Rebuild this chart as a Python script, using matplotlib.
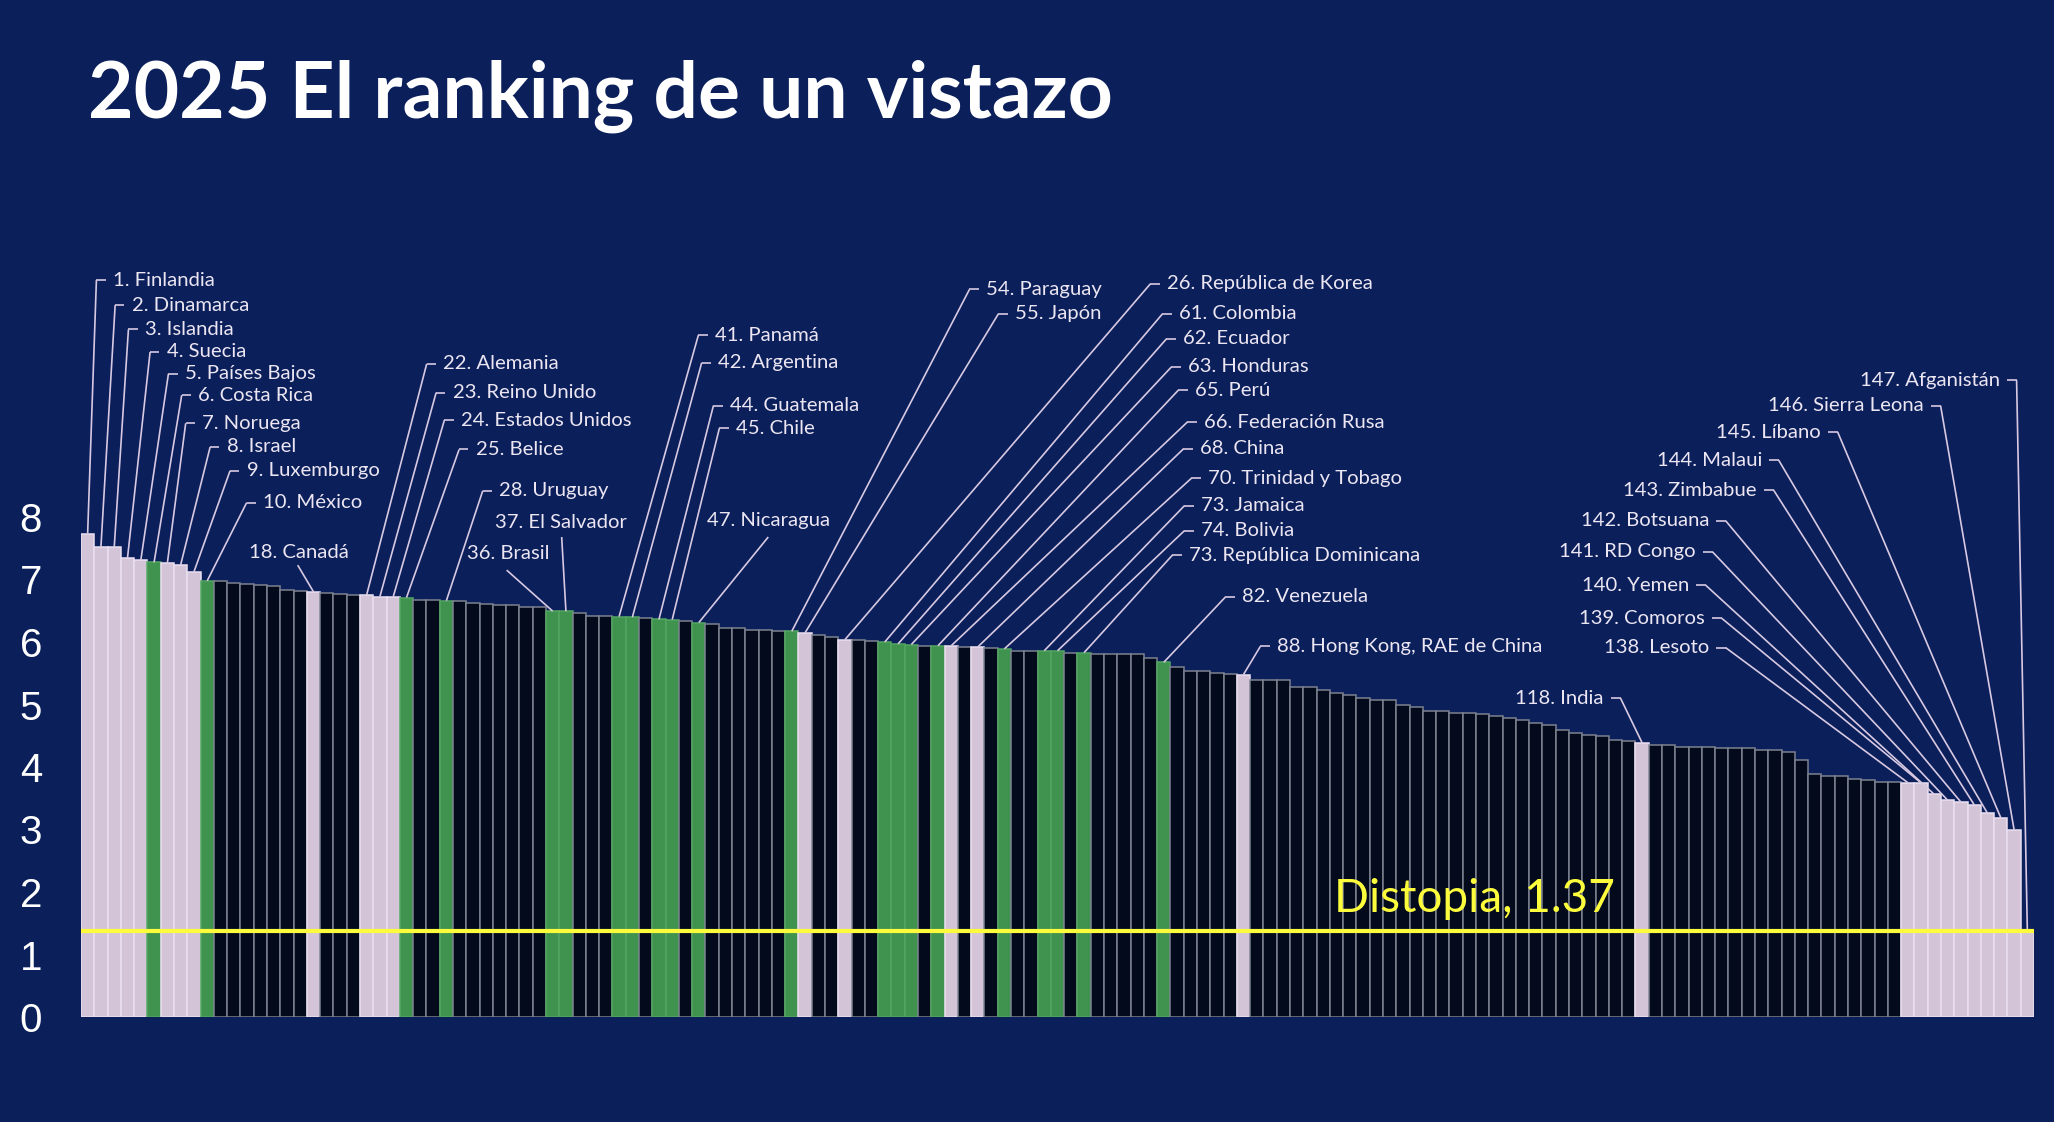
import matplotlib
matplotlib.use("Agg")
import matplotlib.pyplot as plt

TITLE = "2025 El ranking de un vistazo"

# happiness score per rank (1..147)
SCORES = [
    7.736, 7.521, 7.515, 7.345, 7.306, 7.274, 7.262, 7.234, 7.122, 6.979,
    6.974, 6.952, 6.935, 6.910, 6.889, 6.829, 6.810, 6.803, 6.792, 6.775,
    6.759, 6.753, 6.728, 6.724, 6.711, 6.673, 6.669, 6.661, 6.659, 6.629,
    6.606, 6.600, 6.593, 6.565, 6.563, 6.494, 6.492, 6.466, 6.417, 6.415,
    6.407, 6.397, 6.378, 6.361, 6.358, 6.340, 6.310, 6.290, 6.220, 6.220,
    6.190, 6.190, 6.180, 6.172, 6.147, 6.110, 6.085, 6.038, 6.030, 6.013,
    6.000, 5.970, 5.960, 5.940, 5.940, 5.940, 5.925, 5.921, 5.900, 5.890,
    5.860, 5.855, 5.860, 5.860, 5.820, 5.830, 5.810, 5.810, 5.810, 5.805,
    5.750, 5.675, 5.605, 5.540, 5.540, 5.500, 5.490, 5.480, 5.390, 5.390,
    5.390, 5.285, 5.285, 5.230, 5.190, 5.150, 5.110, 5.070, 5.070, 5.000,
    4.955, 4.900, 4.900, 4.870, 4.870, 4.850, 4.820, 4.780, 4.750, 4.710,
    4.670, 4.590, 4.540, 4.510, 4.500, 4.430, 4.410, 4.389, 4.350, 4.350,
    4.325, 4.320, 4.320, 4.300, 4.300, 4.300, 4.270, 4.270, 4.245, 4.120,
    3.890, 3.860, 3.860, 3.810, 3.790, 3.765, 3.760, 3.750, 3.745, 3.561,
    3.469, 3.438, 3.396, 3.260, 3.188, 2.998, 1.364,
]

GREEN_RANKS = [6, 10, 25, 28, 36, 37, 41, 42, 44, 45, 47, 54, 61, 62, 63,
               65, 70, 73, 74, 76, 82]
LAVENDER_RANKS = [1, 2, 3, 4, 5, 7, 8, 9, 18, 22, 23, 24, 55, 58, 66, 68,
                  88, 118] + list(range(138, 148))

DYSTOPIA = 1.37
DYSTOPIA_LABEL = "Distopia, 1.37"
Y_TICKS = list(range(9))

# labels with a stub on the left of the text: (text, bar rank)
LEFT_LABELS = [
    ("1. Finlandia", 1), ("2. Dinamarca", 2), ("3. Islandia", 3),
    ("4. Suecia", 4), ("5. Países Bajos", 5), ("6. Costa Rica", 6),
    ("7. Noruega", 7), ("8. Israel", 8), ("9. Luxemburgo", 9),
    ("10. México", 10), ("22. Alemania", 22), ("23. Reino Unido", 23),
    ("24. Estados Unidos", 24), ("25. Belice", 25), ("28. Uruguay", 28),
    ("41. Panamá", 41), ("42. Argentina", 42), ("44. Guatemala", 44),
    ("45. Chile", 45), ("54. Paraguay", 54), ("55. Japón", 55),
    ("26. República de Korea", 58), ("61. Colombia", 61),
    ("62. Ecuador", 62), ("63. Honduras", 63), ("65. Perú", 65),
    ("66. Federación Rusa", 66), ("68. China", 68),
    ("70. Trinidad y Tobago", 70), ("73. Jamaica", 73),
    ("74. Bolivia", 74), ("73. República Dominicana", 76),
    ("82. Venezuela", 82), ("88. Hong Kong, RAE de China", 88),
]
# labels with a stub on the right of the text
RIGHT_LABELS = [
    ("118. India", 118), ("138. Lesoto", 138), ("139. Comoros", 139),
    ("140. Yemen", 140), ("141. RD Congo", 141), ("142. Botsuana", 142),
    ("143. Zimbabue", 143), ("144. Malaui", 144), ("145. Líbano", 145),
    ("146. Sierra Leona", 146), ("147. Afganistán", 147),
]
# labels without stub
FREE_LABELS = [
    ("18. Canadá", 18), ("36. Brasil", 36), ("37. El Salvador", 37),
    ("47. Nicaragua", 47),
]

# layout (data units: x in bars, y in score units)
LEFT_POS = [
    (2.41, 11.79), (3.82, 11.39), (4.82, 11.00), (6.45, 10.64),
    (7.83, 10.29), (8.83, 9.95), (9.13, 9.50), (10.97, 9.12),
    (12.47, 8.74), (13.72, 8.23), (27.27, 10.45), (27.98, 9.99),
    (28.60, 9.55), (29.71, 9.08), (31.49, 8.42), (47.72, 10.91),
    (47.97, 10.47), (48.85, 9.78), (49.30, 9.42), (68.12, 11.64),
    (70.30, 11.25), (81.74, 11.73), (82.65, 11.25), (82.95, 10.85),
    (83.32, 10.40), (83.85, 10.03), (84.53, 9.52), (84.23, 9.09),
    (84.83, 8.62), (84.30, 8.18), (84.30, 7.78), (83.40, 7.39),
    (87.39, 6.72), (90.02, 5.93),
]
RIGHT_POS = [
    (114.63, 5.10), (122.54, 5.91), (122.24, 6.38), (121.03, 6.91),
    (121.56, 7.44), (122.54, 7.94), (126.15, 8.43), (126.53, 8.91),
    (130.97, 9.36), (138.72, 9.78), (144.44, 10.19),
]
FREE_POS = [(12.65, 7.44), (29.08, 7.42), (31.16, 7.92), (47.10, 7.95)]
FREE_LINE_START = [(16.31, 7.23), (32.04, 7.15), (36.18, 7.68), (51.73, 7.68)]

BG = "#0b1f5b"
LAVENDER = "#d3c4d8"
GREEN = "#3f934f"
DARK = "#020a1c"
LINE_COL = "#d8c9e2"
TEXT_COL = "#ece6f2"
YELLOW = "#fcfc3c"

GAP = 0.55
STUB = 0.7
LABEL_FONT = "Lato"
LABEL_SIZE = 14.6


def bar_colors():
    faces, edges = [], []
    for rank in range(1, len(SCORES) + 1):
        if rank in GREEN_RANKS:
            faces.append(GREEN)
            edges.append("#52a660")
        elif rank in LAVENDER_RANKS:
            faces.append(LAVENDER)
            edges.append("#eadff0")
        else:
            faces.append(DARK)
            edges.append("#7d8290")
    return faces, edges


def main() -> None:
    fig = plt.figure(figsize=(20.54, 11.22), dpi=100, facecolor=BG)
    ax = fig.add_axes([81 / 2054, 105 / 1122, 1953 / 2054, 1017 / 1122])
    ax.set_facecolor(BG)

    n = len(SCORES)
    x = list(range(n))
    faces, edges = bar_colors()
    ax.bar(x, SCORES, width=1.0, align="edge", color=faces,
           edgecolor=edges, linewidth=1.1, zorder=2)

    ax.set_xlim(0, n)
    ax.set_ylim(0, 1017 / 62.5)

    ax.hlines(DYSTOPIA, 0, n, color=YELLOW, linewidth=3.0, zorder=4)
    ax.text(94.3, 1.685, DYSTOPIA_LABEL, color=YELLOW, fontsize=33,
            family="Lato", va="baseline", ha="left", zorder=5)

    line_kw = dict(color=LINE_COL, linewidth=1.2, zorder=3,
                   solid_capstyle="butt")
    text_kw = dict(color=TEXT_COL, fontsize=LABEL_SIZE, family=LABEL_FONT,
                   va="center", zorder=5)

    for (label, rank), (tx, ty) in zip(LEFT_LABELS, LEFT_POS):
        sx0 = tx - GAP - STUB
        ax.plot([sx0, tx - GAP], [ty, ty], **line_kw)
        ax.plot([sx0, rank - 0.5], [ty, SCORES[rank - 1]], **line_kw)
        ax.text(tx, ty, label, ha="left", **text_kw)

    for (label, rank), (tx, ty) in zip(RIGHT_LABELS, RIGHT_POS):
        sx1 = tx + GAP + STUB
        ax.plot([tx + GAP, sx1], [ty, ty], **line_kw)
        ax.plot([sx1, rank - 0.5], [ty, SCORES[rank - 1]], **line_kw)
        ax.text(tx, ty, label, ha="right", **text_kw)

    for (label, rank), (tx, ty), (lx, ly) in zip(FREE_LABELS, FREE_POS,
                                                 FREE_LINE_START):
        ax.plot([lx, rank - 0.5], [ly, SCORES[rank - 1]], **line_kw)
        ax.text(tx, ty, label, ha="left", **text_kw)

    ax.set_xticks([])
    ax.set_yticks(Y_TICKS)
    ax.set_yticklabels([str(t) for t in Y_TICKS], family="Liberation Sans",
                       fontsize=29, color="white")
    ax.tick_params(axis="y", length=0, pad=28)
    for spine in ax.spines.values():
        spine.set_visible(False)

    fig.text(88 / 2054, 1 - 118 / 1122, TITLE, color="white", fontsize=56.5,
             family="Lato", weight="bold", va="baseline", ha="left")

    fig.savefig("out.png", dpi=100, facecolor=BG)
    plt.close(fig)


if __name__ == "__main__":
    main()
